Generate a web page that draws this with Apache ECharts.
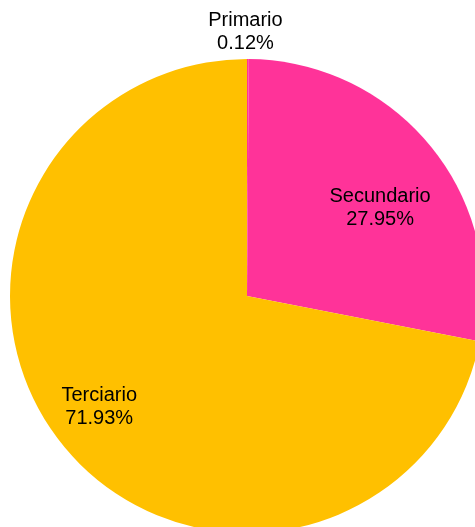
<!DOCTYPE html>
<html>
<head>
<meta charset="utf-8">
<script src="https://cdn.jsdelivr.net/npm/echarts@6/dist/echarts.min.js"></script>
<style>
  html, body { margin: 0; padding: 0; background: #fff; }
  #main { width: 475px; height: 527px; }
</style>
</head>
<body>
<div id="main"></div>
<script>
// datos del grafico (porcentaje por sector)
var sectores = ['Primario', 'Secundario', 'Terciario'];
var porcentajes = [0.12, 27.95, 71.93];
var colores = ['#FF3399', '#FF3399', '#FFC000'];
// desplazamiento de cada etiqueta respecto a su posicion interior
var desplazamientos = [[-2, -143], [39, -11], [-54, 34]];

var chartDom = document.getElementById('main');
var myChart = echarts.init(chartDom);

var datos = sectores.map(function (nombre, i) {
  return {
    name: nombre,
    value: porcentajes[i],
    itemStyle: { color: colores[i] },
    label: { offset: desplazamientos[i] }
  };
});

var option = {
  animation: false,
  series: [
    {
      type: 'pie',
      center: [247, 296],
      radius: 237,
      startAngle: 90,
      clockwise: true,
      avoidLabelOverlap: false,
      itemStyle: { borderWidth: 0 },
      emphasis: { disabled: true },
      label: {
        show: true,
        position: 'inside',
        color: '#000',
        fontFamily: 'Liberation Sans, Arial, sans-serif',
        fontSize: 20,
        lineHeight: 23,
        align: 'center',
        formatter: function (p) {
          return p.name + '\n' + p.value.toFixed(2) + '%';
        }
      },
      labelLine: { show: false },
      data: datos
    }
  ]
};
myChart.setOption(option);
</script>
</body>
</html>
